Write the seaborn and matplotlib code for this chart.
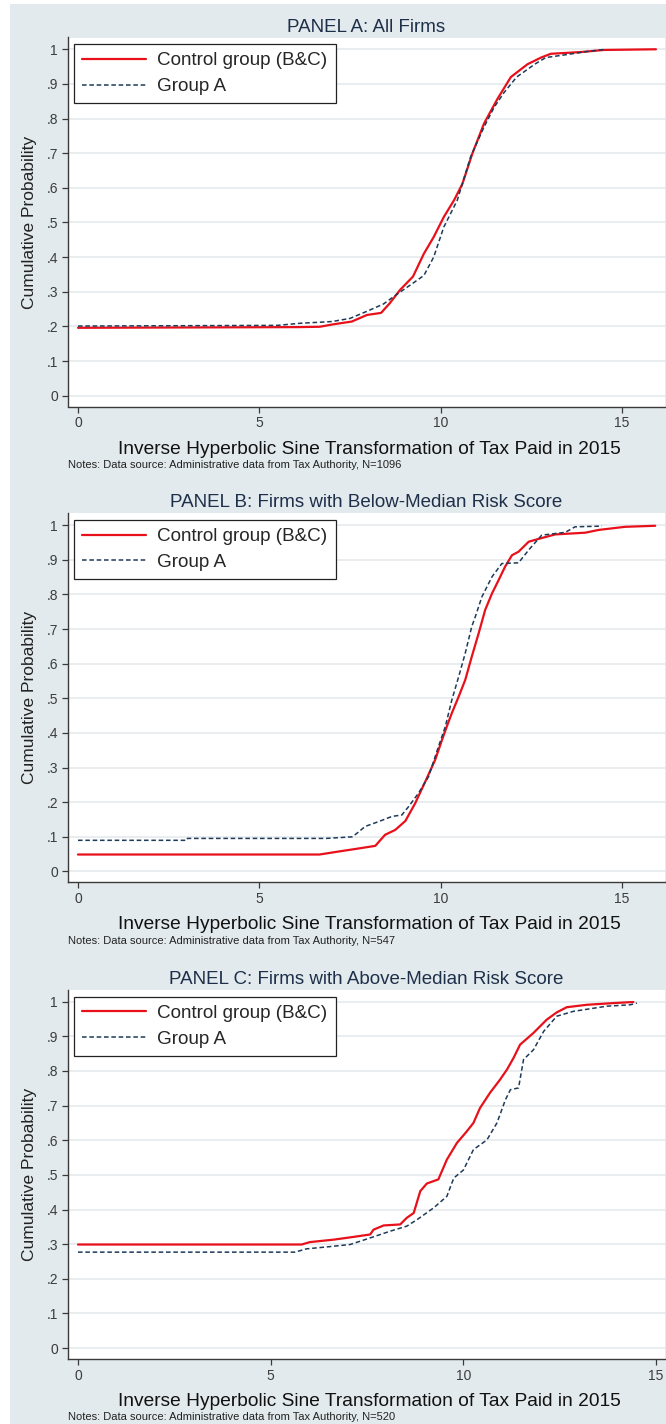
import matplotlib
matplotlib.use('Agg')
import matplotlib.pyplot as plt
import seaborn as sns
from matplotlib.patches import Rectangle

# ---- values (x = asinh(tax paid), y = cumulative prob.) ----
# Panel A: all firms
a_ctrl_x = [0, 6.1, 6.67, 7.04, 7.55, 7.97, 8.36, 8.6, 8.88, 9.24, 9.54, 9.81, 10.09,
            10.37, 10.6, 10.88, 11.2, 11.57, 11.94, 12.4, 12.77, 13.04, 13.87, 14.5, 15.94]
a_ctrl_y = [.196, .198, .199, .206, .214, .233, .239, .267, .305, .344, .41, .458, .516,
            .564, .611, .70, .786, .857, .92, .957, .976, .987, .992, .998, 1.0]
a_grp_x = [0, 5.5, 6.12, 7.0, 7.5, 8.0, 8.43, 8.8, 9.2, 9.54, 9.81, 10.09, 10.46, 10.83,
           11.2, 11.48, 11.75, 12.1, 12.6, 12.9, 13.5, 14.0, 14.55]
a_grp_y = [.201, .203, .209, .214, .223, .245, .265, .293, .322, .347, .40, .487, .564, .69,
           .776, .833, .875, .92, .957, .976, .985, .993, 1.0]

# Panel B: below-median risk score
b_ctrl_x = [0, 6.66, 7.21, 7.65, 8.2, 8.47, 8.75, 9.03, 9.3, 9.58, 9.85, 10.04, 10.17, 10.31,
            10.5, 10.68, 10.86, 11.05, 11.23, 11.42, 11.6, 11.78, 11.97, 12.15, 12.43, 12.7,
            13.16, 13.99, 14.36, 15.09, 15.92]
b_ctrl_y = [.049, .049, .058, .065, .074, .106, .12, .146, .197, .26, .322, .38, .418, .457,
            .505, .553, .62, .6875, .755, .803, .841, .88, .913, .923, .952, .96,
            .973, .978, .986, .995, .998]
b_grp_x = [0, 3.0, 3.02, 6.84, 7.56, 7.69, 7.92, 8.29, 8.66, 8.93, 9.12, 9.39, 9.67, 9.94,
           10.13, 10.31, 10.5, 10.68, 10.86, 10.96, 11.14, 11.42, 11.69, 12.15, 12.43, 12.79,
           13.44, 13.71, 14.45]
b_grp_y = [.090, .090, .0955, .0955, .1, .11, .13, .144, .159, .163, .1875, .226, .274, .36,
           .418, .495, .5625, .63, .707, .736, .793, .851, .889, .891, .928, .971,
           .979, .995, .997]

# Panel C: above-median risk score
c_ctrl_x = [0, 5.8, 6.02, 6.63, 7.15, 7.58, 7.67, 7.93, 8.36, 8.53, 8.71, 8.88, 9.05, 9.35,
            9.57, 9.83, 10.09, 10.26, 10.43, 10.69, 10.95, 11.13, 11.3, 11.47, 11.82, 12.16,
            12.42, 12.68, 13.2, 13.9, 14.41]
c_ctrl_y = [.299, .299, .306, .313, .321, .328, .342, .354, .357, .376, .39, .453, .475, .487,
            .544, .592, .626, .65, .693, .737, .775, .804, .8375, .876, .91, .948,
            .969, .984, .991, .996, .999]
c_grp_x = [0, 5.63, 5.93, 6.45, 7.06, 7.58, 8.1, 8.53, 8.8, 9.23, 9.57, 9.75, 10.0, 10.26,
           10.61, 10.87, 11.09, 11.22, 11.43, 11.56, 11.82, 12.08, 12.42, 12.85, 13.72,
           14.33, 14.5]
c_grp_y = [.277, .277, .2865, .292, .299, .318, .3375, .352, .371, .405, .438, .491, .514, .573,
           .601, .65, .717, .746, .751, .833, .8615, .914, .958, .972, .987,
           .991, .996]

panel_titles = ['PANEL A: All Firms',
                'PANEL B: Firms with Below-Median Risk Score',
                'PANEL C: Firms with Above-Median Risk Score']
sample_sizes = [1096, 547, 520]
series_labels = ['Control group (B&C)', 'Group A']
y_ticks = [0, .1, .2, .3, .4, .5, .6, .7, .8, .9, 1]
y_tick_labels = ['0', '.1', '.2', '.3', '.4', '.5', '.6', '.7', '.8', '.9', '1']
x_ticks = [0, 5, 10, 15]
x_label = 'Inverse Hyperbolic Sine Transformation of Tax Paid in 2015'
y_label = 'Cumulative Probability'

# ---- layout (pixels of the 666x1424 output) ----
W, H = 666, 1424
BG = '#e3eaed'
RED = '#e8101a'
NAVY = '#1d3a5a'
PLOT_L, PLOT_R, PLOT_H = 67.7, 665, 369
panel_tops = [37.5, 513.3, 989.9]
panel_xlims = [(-0.284, 16.19), (-0.284, 16.19), (-0.267, 15.23)]
YLIM = (-0.0312, 1.034)


def fx(px):
    return px / W


def fy(py):
    return 1 - py / H


def draw_panel(fig, i, ctrl_x, ctrl_y, grp_x, grp_y):
    top = panel_tops[i]
    ax = fig.add_axes([fx(PLOT_L), fy(top + PLOT_H), fx(PLOT_R) - fx(PLOT_L), PLOT_H / H])
    ax.set_facecolor('white')

    sns.lineplot(x=ctrl_x, y=ctrl_y, ax=ax, color=RED, lw=1.6, sort=False,
                 estimator=None, label=series_labels[0], zorder=3)
    sns.lineplot(x=grp_x, y=grp_y, ax=ax, color=NAVY, lw=1.1, sort=False,
                 estimator=None, label=series_labels[1], dashes=False,
                 linestyle=(0, (3, 1.8)), zorder=4)

    ax.set_xlim(panel_xlims[i])
    ax.set_ylim(YLIM)
    ax.set_yticks(y_ticks)
    ax.set_yticklabels(y_tick_labels)
    ax.set_xticks(x_ticks)
    ax.set_xticklabels([str(t) for t in x_ticks])
    ax.set_xlabel('')
    ax.set_ylabel('')

    ax.grid(False)
    ax.yaxis.grid(True, color='#e8ecee', lw=1.3)
    ax.set_axisbelow(True)
    for s in ['top', 'right']:
        ax.spines[s].set_visible(False)
    for s in ['left', 'bottom']:
        ax.spines[s].set_color('#3a3a3a')
        ax.spines[s].set_linewidth(1.0)
    ax.tick_params(axis='both', direction='out', length=4, width=0.9, color='#3a3a3a',
                   labelcolor='#3c3c3c', labelsize=10, pad=3, left=True, bottom=True)

    leg = ax.legend(loc='upper left', bbox_to_anchor=(6.3 / (PLOT_R - PLOT_L), 1 - 6.8 / PLOT_H),
                    borderaxespad=0, frameon=True, fancybox=False, framealpha=1,
                    edgecolor='#222222', facecolor='white', fontsize=13.6,
                    handlelength=3.4, handletextpad=0.6, labelspacing=0.45,
                    borderpad=0.42)
    leg.get_frame().set_linewidth(0.9)

    cx = (PLOT_L + PLOT_R) / 2
    fig.text(fx(cx), fy(top - 10.5), panel_titles[i], ha='center', va='center',
             fontsize=13.5, color='#1e2f4a')
    fig.text(fx(369), fy(top + 411.5), x_label, ha='center', va='center',
             fontsize=13.8, color='#111111')
    fig.text(fx(68), fy(top + 427.5),
             'Notes: Data source: Administrative data from Tax Authority, N=%d' % sample_sizes[i],
             ha='left', va='center', fontsize=8, color='#222222')
    fig.text(fx(30), fy(top + PLOT_H / 2), y_label, ha='center', va='center',
             rotation=90, fontsize=12.5, color='#222222')
    return ax


def main():
    sns.set_style('white')
    plt.rcParams['font.family'] = ['Liberation Sans', 'DejaVu Sans']

    fig = plt.figure(figsize=(W / 100, H / 100), dpi=100)
    fig.patch.set_facecolor('white')
    fig.patches.append(Rectangle((fx(10), 0), 1 - fx(10), fy(4), transform=fig.transFigure,
                                 facecolor=BG, edgecolor='none', zorder=-1))

    draw_panel(fig, 0, a_ctrl_x, a_ctrl_y, a_grp_x, a_grp_y)
    draw_panel(fig, 1, b_ctrl_x, b_ctrl_y, b_grp_x, b_grp_y)
    draw_panel(fig, 2, c_ctrl_x, c_ctrl_y, c_grp_x, c_grp_y)

    fig.savefig('out.png', dpi=100, facecolor=fig.get_facecolor())


if __name__ == '__main__':
    main()
